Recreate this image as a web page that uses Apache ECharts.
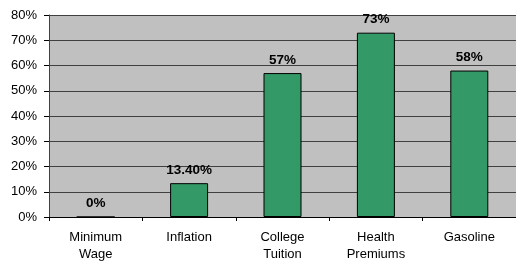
<!DOCTYPE html>
<html>
<head>
<meta charset="utf-8">
<script src="https://cdn.jsdelivr.net/npm/echarts@6/dist/echarts.min.js"></script>
<style>
  html, body { margin: 0; padding: 0; background: #fff; }
  #chart { width: 516px; height: 267px; }
</style>
</head>
<body>
<div id="chart"></div>
<script>
  // categories and values
  var categories = ['Minimum\nWage', 'Inflation', 'College\nTuition', 'Health\nPremiums', 'Gasoline']
  var values = [0, 13.4, 57, 73, 58]
  var valueLabels = ['0%', '13.40%', '57%', '73%', '58%']
  var yMin = 0
  var yMax = 80
  var yStep = 10

  var font = 'Arial, "Liberation Sans", sans-serif'
  var myChart = echarts.init(document.getElementById('chart'))
  myChart.setOption({
    animation: false,
    grid: {
      show: true,
      backgroundColor: '#c0c0c0',
      borderWidth: 0,
      left: 49,
      top: 15,
      width: 471.5,
      height: 202
    },
    xAxis: {
      type: 'category',
      data: categories,
      axisLine: { lineStyle: { color: '#000', width: 1 } },
      axisTick: { show: true, length: 4, lineStyle: { color: '#000' } },
      axisLabel: {
        color: '#000',
        fontFamily: font,
        fontSize: 13,
        lineHeight: 17,
        margin: 12,
        interval: 0
      }
    },
    yAxis: {
      type: 'value',
      min: yMin,
      max: yMax,
      interval: yStep,
      axisLine: { show: true, lineStyle: { color: '#404040', width: 1 } },
      axisTick: { show: true, length: 5, lineStyle: { color: '#000' } },
      splitLine: { lineStyle: { color: '#404040', width: 1 } },
      axisLabel: {
        color: '#000',
        fontFamily: font,
        fontSize: 13,
        margin: 12,
        formatter: '{value}%'
      }
    },
    series: [{
      type: 'bar',
      data: values,
      barWidth: 38,
      itemStyle: {
        color: '#339966',
        borderColor: '#000',
        borderWidth: 1
      },
      label: {
        show: true,
        position: 'top',
        distance: 6,
        color: '#000',
        fontFamily: font,
        fontSize: 13.5,
        fontWeight: 'bold',
        formatter: function (p) { return valueLabels[p.dataIndex] }
      }
    }]
  })
</script>
</body>
</html>
